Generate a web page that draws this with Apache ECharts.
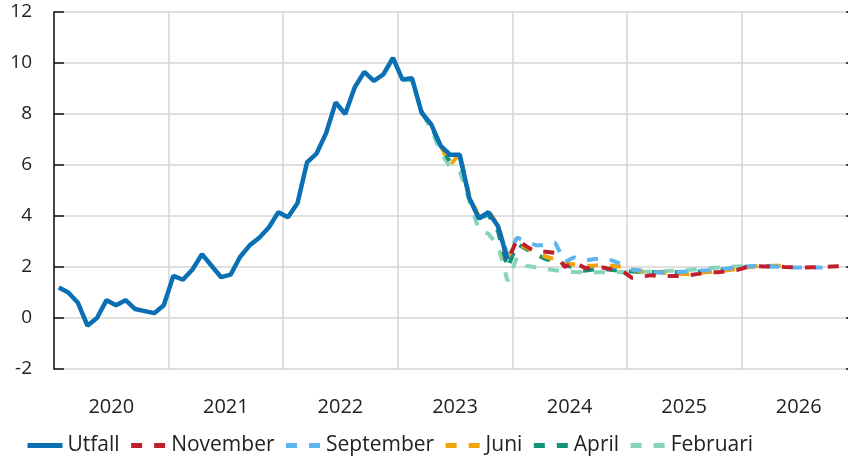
<!DOCTYPE html>
<html>
<head>
<meta charset="utf-8">
<script src="https://cdn.jsdelivr.net/npm/echarts@6/dist/echarts.min.js"></script>
<style>
html, body { margin: 0; padding: 0; background: #fff; overflow: hidden; }
#chart { width: 856px; height: 459px; }
</style>
</head>
<body>
<div id="chart"></div>
<script>
// årtal på x-axeln
const years = ['2020', '2021', '2022', '2023', '2024', '2025', '2026']
// y-axelns steg
const yMin = -2
const yMax = 12
const yStep = 2

// utfall, jan 2020 - dec 2023
const utfall = [
    1.2, 1.0, 0.6, -0.3, 0.0, 0.7, 0.5, 0.7, 0.35, 0.27, 0.19, 0.5,
    1.65, 1.5, 1.9, 2.5, 2.05, 1.6, 1.7, 2.4, 2.85, 3.15, 3.55, 4.15,
    3.95, 4.5, 6.1, 6.45, 7.25, 8.45, 8.0, 9.05, 9.65, 9.3, 9.55, 10.2,
    9.35, 9.4, 8.05, 7.6, 6.75, 6.4, 6.4, 4.7, 3.9, 4.15, 3.6, 2.3
]

// prognoser, startmånad + värden
const novemberStart = '2023-11'
const november = [
    3.6, 2.2,
    3.1, 2.8, 2.6, 2.6, 2.55, 2.0, 2.2, 1.98, 1.9, 1.98, 1.9, 1.85,
    1.58, 1.6, 1.68, 1.63, 1.65, 1.65, 1.68, 1.73, 1.79, 1.79, 1.83, 1.88,
    1.99, 2.04, 2.02, 2.02, 2.0, 1.99, 1.98, 1.99, 2.0, 2.02, 2.04, 2.06
]
const septemberStart = '2023-08'
const september = [
    4.7, 3.95, 4.1, 3.6, 2.45,
    3.15, 3.0, 2.85, 2.85, 2.95, 2.2, 2.38, 2.25, 2.3, 2.35, 2.25, 2.1,
    1.9, 1.86, 1.8, 1.78, 1.76, 1.8, 1.83, 1.85, 1.87, 1.9, 1.94, 1.97,
    2.02, 2.04, 2.05, 2.02, 2.0, 1.98, 1.98, 1.98, 1.98
]
const juniStart = '2023-05'
const juni = [
    6.75, 6.0, 6.45, 4.8, 4.0, 4.2, 3.65, 2.4,
    2.9, 2.75, 2.6, 2.4, 2.3, 2.15, 2.1, 2.05, 2.05, 2.1, 2.05, 2.0,
    1.9, 1.83, 1.8, 1.78, 1.76, 1.74, 1.72, 1.76, 1.8, 1.82, 1.87, 1.92,
    1.98, 2.03, 2.05, 2.05, 2.05
]
const aprilStart = '2023-03'
const april = [
    8.1, 7.5, 6.75, 6.1, 6.3, 4.75, 3.9, 4.05, 3.4, 1.95,
    2.9, 2.7, 2.5, 2.3, 2.25, 2.1, 1.95, 1.85, 1.9, 1.92, 1.88, 1.85,
    1.82, 1.8, 1.8, 1.8, 1.8, 1.8, 1.8, 1.82, 1.85, 1.88, 1.92, 1.96,
    2.0, 2.02, 2.03, 2.03
]
const februariStart = '2023-01'
const februari = [
    9.35, 9.3, 8.1, 7.4, 6.5, 5.9, 5.75, 4.6, 3.45, 3.3, 2.85, 1.45,
    2.38, 2.05, 1.98, 1.93, 1.87, 1.83, 1.8, 1.79, 1.79, 1.79, 1.79, 1.8,
    1.79, 1.8, 1.82, 1.83, 1.85, 1.86, 1.88, 1.92, 1.95, 1.98, 2.0, 2.02,
    2.03
]

// månadskategorier
const months = []
years.forEach(y => {
    for (let m = 1; m <= 12; m++) months.push(y + '-' + (m < 10 ? '0' + m : m))
})

function fromMonth (start, values) {
    const i0 = months.indexOf(start)
    return values.map((v, i) => [months[i0 + i], v])
}

const font = '"Open Sans", "Noto Sans", sans-serif'
const gridColor = '#d4d4d4'
const dash = [11, 12]

function forecast (name, color, start, values, z) {
    return {
        name: name,
        type: 'line',
        data: fromMonth(start, values),
        symbol: 'none',
        z: z,
        lineStyle: { color: color, width: 4, type: dash },
        itemStyle: { color: color }
    }
}

const chart = echarts.init(document.getElementById('chart'), null, { renderer: 'canvas' })

chart.setOption({
    animation: false,
    textStyle: { fontFamily: font },
    // plotytan går lite utanför bildens högerkant, som i förlagan
    grid: { left: 54, top: 12, right: 0, height: 357, containLabel: false },
    legend: {
        left: 20,
        top: 430,
        itemWidth: 35,
        itemHeight: 14,
        itemGap: 9,
        itemStyle: { opacity: 0 },
        lineStyle: { width: 5 },
        textStyle: { fontSize: 21, color: '#222', fontFamily: font },
        data: ['Utfall', 'November', 'September', 'Juni', 'April', 'Februari']
    },
    xAxis: [
        {
            type: 'category',
            data: months,
            boundaryGap: true,
            axisLine: { show: false },
            axisTick: { show: false },
            axisLabel: { show: false },
            splitLine: { show: false }
        },
        {
            type: 'category',
            data: years,
            position: 'bottom',
            boundaryGap: true,
            axisLine: { show: false },
            axisTick: { show: false },
            axisLabel: { interval: 0, fontSize: 20, color: '#222', margin: 28, fontFamily: font },
            splitLine: { show: true, interval: 0, lineStyle: { color: gridColor, width: 1.5 } }
        }
    ],
    yAxis: [
        {
            type: 'value',
            min: yMin,
            max: yMax,
            interval: yStep,
            position: 'left',
            axisLine: { show: true, lineStyle: { color: '#111', width: 1.5 } },
            axisTick: { show: true, inside: true, length: 10, lineStyle: { color: '#111', width: 1.5 } },
            axisLabel: { margin: 22, fontSize: 19, color: '#222', fontFamily: font },
            splitLine: { lineStyle: { color: gridColor, width: 1.5 } }
        },
        {
            type: 'value',
            min: yMin,
            max: yMax,
            interval: yStep,
            position: 'right',
            axisLine: { show: true, lineStyle: { color: '#111', width: 1.5 } },
            axisTick: { show: true, inside: true, length: 10, lineStyle: { color: '#111', width: 1.5 } },
            axisLabel: { show: false },
            splitLine: { show: false }
        }
    ],
    series: [
        {
            name: 'Utfall',
            type: 'line',
            data: fromMonth('2020-01', utfall),
            symbol: 'none',
            z: 10,
            lineStyle: { color: '#0b6fb3', width: 4.5 },
            itemStyle: { color: '#0b6fb3' }
        },
        forecast('November', '#c0202e', novemberStart, november, 9),
        forecast('September', '#5db4ee', septemberStart, september, 8),
        forecast('Juni', '#f0a30a', juniStart, juni, 7),
        forecast('April', '#129478', aprilStart, april, 6),
        forecast('Februari', '#86d5b8', februariStart, februari, 5)
    ]
})
</script>
</body>
</html>
